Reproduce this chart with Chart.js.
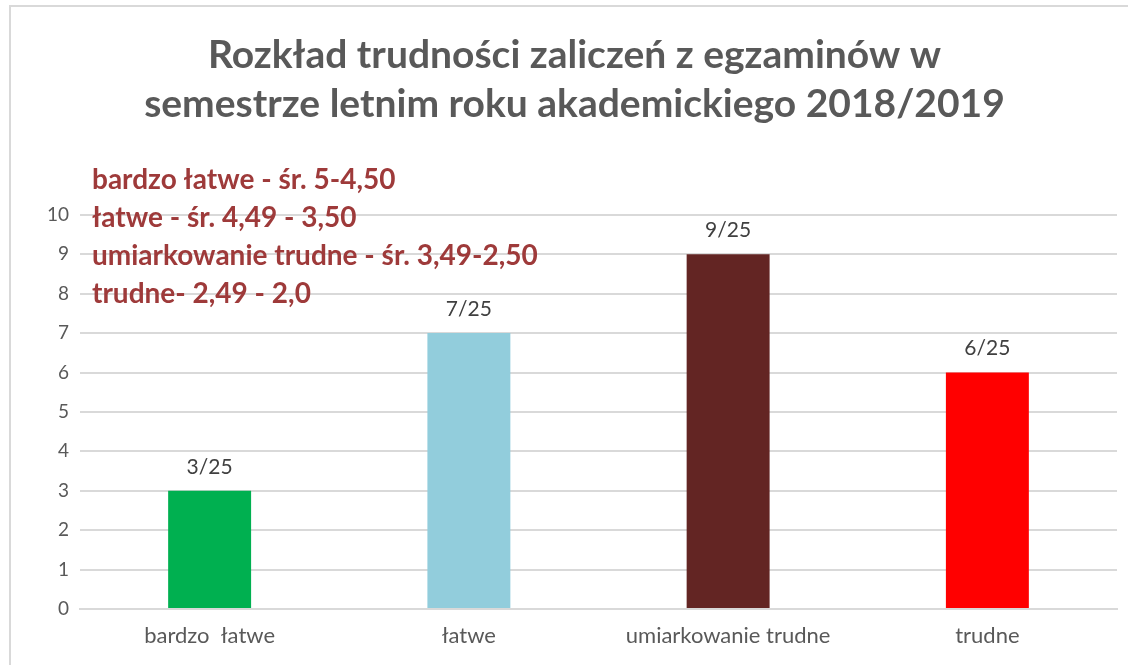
<!DOCTYPE html>
<html>
<head>
<meta charset="utf-8">
<script src="https://cdn.jsdelivr.net/npm/chart.js@4"></script>
<style>
  html, body { margin: 0; padding: 0; background: #fff; }
  #wrap { width: 1128px; height: 665px; position: relative; }
</style>
</head>
<body>
<div id="wrap"><canvas id="chart" width="1128" height="665"></canvas></div>
<script>
// dane
const categories = ['bardzo  łatwe', 'łatwe', 'umiarkowanie trudne', 'trudne'];
const counts = [3, 7, 9, 6];
const countLabels = ['3/25', '7/25', '9/25', '6/25'];
const barColors = ['#00B050', '#92CDDC', '#632523', '#FF0000'];
const titleLines = ['Rozkład trudności zaliczeń z egzaminów w', 'semestrze letnim roku akademickiego 2018/2019'];
const legendNotes = [
    'bardzo łatwe - śr. 5-4,50',
    'łatwe - śr. 4,49 - 3,50',
    'umiarkowanie trudne - śr. 3,49-2,50',
    'trudne- 2,49 - 2,0',
];

const FONT = 'Lato, "Open Sans", sans-serif';
const GRID = '#d9d9d9';
const TEXT = '#595959';

// ramka wykresu (jak w Excelu) + opisy skali i etykiety słupków
const extras = {
    id: 'extras',
    beforeDraw(chart) {
        const { ctx } = chart;
        ctx.save();
        ctx.strokeStyle = '#d9d9d9';
        ctx.lineWidth = 2;
        ctx.strokeRect(10, 6, 1130, 700);
        ctx.restore();
    },
    afterDatasetsDraw(chart) {
        const { ctx } = chart;
        const meta = chart.getDatasetMeta(0);
        ctx.save();
        ctx.fillStyle = '#404040';
        ctx.font = `21px ${FONT}`;
        ctx.textAlign = 'center';
        ctx.textBaseline = 'middle';
        meta.data.forEach((bar, i) => {
            ctx.fillText(countLabels[i], bar.x, bar.y - 24);
        });
        ctx.restore();
    },
    afterDraw(chart) {
        const { ctx } = chart;
        ctx.save();
        ctx.fillStyle = '#9E3A3A';
        ctx.font = `bold 28px ${FONT}`;
        ctx.textAlign = 'left';
        ctx.textBaseline = 'middle';
        legendNotes.forEach((t, i) => {
            ctx.fillText(t, 92, 180 + i * 38);
        });
        ctx.restore();
    },
};

new Chart(document.getElementById('chart'), {
    type: 'bar',
    data: {
        labels: categories,
        datasets: [
            {
                data: counts,
                backgroundColor: barColors,
                borderWidth: 0,
                barPercentage: 0.32,
                categoryPercentage: 1,
            },
        ],
    },
    options: {
        responsive: false,
        animation: false,
        layout: { padding: { left: 32, right: 11, top: 0, bottom: 20 } },
        plugins: {
            legend: { display: false },
            tooltip: { enabled: false },
            title: {
                display: true,
                text: titleLines,
                color: TEXT,
                font: { family: FONT, size: 39, weight: 'bold', lineHeight: 1.28 },
                padding: { top: 30, bottom: 85 },
            },
        },
        scales: {
            x: {
                afterFit: (s) => { s.height = 36; },
                grid: { display: false, drawTicks: false },
                border: { display: true, color: GRID, width: 2 },
                ticks: { color: TEXT, font: { family: FONT, size: 22 }, padding: 14 },
            },
            y: {
                min: 0,
                max: 10,
                afterFit: (s) => { s.width = 48; },
                grid: { color: GRID, lineWidth: 2, drawTicks: false },
                border: { display: false },
                ticks: { stepSize: 1, color: TEXT, font: { family: FONT, size: 19 }, padding: 11 },
            },
        },
    },
    plugins: [extras],
});
</script>
</body>
</html>
